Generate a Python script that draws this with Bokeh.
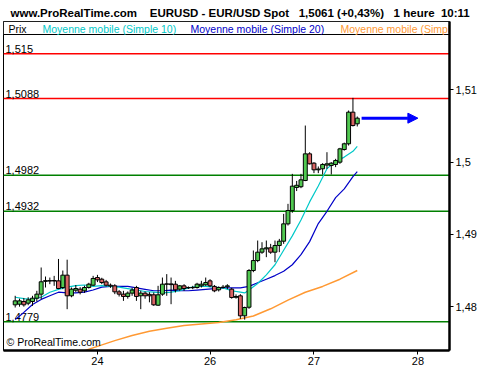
from bokeh.plotting import figure
from bokeh.models import Range1d, FixedTicker, Arrow, NormalHead
from bokeh.core.properties import value
from bokeh.embed import file_html
from bokeh.resources import INLINE

# ---------------- data ----------------
first_bar = -19
opens = [1.48025, 1.48034, 1.48071, 1.48048, 1.48071, 1.48117, 1.48173, 1.48350, 1.48360, 1.48355,
         1.48357, 1.48265, 1.48436, 1.48150, 1.48228, 1.48242, 1.48219, 1.48265, 1.48297, 1.48403,
         1.48380, 1.48343, 1.48297, 1.48288, 1.48205, 1.48173, 1.48141, 1.48187, 1.48265, 1.48150,
         1.48187, 1.48170, 1.48164, 1.48020, 1.48173, 1.48311, 1.48315, 1.48311, 1.48242, 1.48288,
         1.48260, 1.48265, 1.48265, 1.48288, 1.48302, 1.48357, 1.48280, 1.48233, 1.48265, 1.48275,
         1.48242, 1.48130, 1.48150, 1.47873, 1.47992, 1.48500, 1.48638, 1.48754, 1.48800, 1.48814,
         1.48754, 1.48846, 1.48906, 1.49146, 1.49331, 1.49650, 1.49660, 1.49746, 1.50115, 1.49986,
         1.49894, 1.49908, 1.49960, 1.49954, 1.49968, 1.50000, 1.50175, 1.50254, 1.50692, 1.50531]
highs = [1.48150, 1.48110, 1.48120, 1.48130, 1.48150, 1.48219, 1.48542, 1.48417, 1.48403, 1.48426,
         1.48660, 1.48500, 1.48650, 1.48265, 1.48300, 1.48270, 1.48290, 1.48330, 1.48426, 1.48440,
         1.48400, 1.48370, 1.48320, 1.48311, 1.48230, 1.48219, 1.48210, 1.48260, 1.48288, 1.48220,
         1.48210, 1.48200, 1.48196, 1.48288, 1.48403, 1.48450, 1.48403, 1.48357, 1.48300, 1.48311,
         1.48280, 1.48288, 1.48330, 1.48357, 1.48403, 1.48380, 1.48300, 1.48280, 1.48300, 1.48311,
         1.48260, 1.48170, 1.48173, 1.48000, 1.48520, 1.48777, 1.48915, 1.48892, 1.48915, 1.48869,
         1.48915, 1.48938, 1.49284, 1.49423, 1.49838, 1.49740, 1.49838, 1.50507, 1.50138, 1.50000,
         1.49940, 1.49986, 1.50138, 1.50000, 1.50046, 1.50198, 1.50270, 1.50715, 1.50890, 1.50632]
lows = [1.47988, 1.48000, 1.48000, 1.48020, 1.48011, 1.48071, 1.48103, 1.48265, 1.48311, 1.48288,
        1.48242, 1.48242, 1.47965, 1.48130, 1.48200, 1.48170, 1.48190, 1.48250, 1.48288, 1.48340,
        1.48311, 1.48280, 1.48260, 1.48173, 1.48140, 1.48080, 1.48110, 1.48150, 1.48080, 1.47965,
        1.48110, 1.48060, 1.48011, 1.48011, 1.48150, 1.48150, 1.48034, 1.48196, 1.48220, 1.48219,
        1.48245, 1.48242, 1.48250, 1.48265, 1.48288, 1.48270, 1.48200, 1.48210, 1.48250, 1.48242,
        1.48110, 1.48110, 1.47831, 1.47820, 1.47970, 1.48477, 1.48615, 1.48731, 1.48685, 1.48731,
        1.48615, 1.48754, 1.48869, 1.49123, 1.49300, 1.49600, 1.49640, 1.49737, 1.49968, 1.49848,
        1.49848, 1.49829, 1.49908, 1.49829, 1.49931, 1.49977, 1.50160, 1.50230, 1.50494, 1.50494]
closes = [1.48080, 1.48080, 1.48025, 1.48094, 1.48117, 1.48173, 1.48344, 1.48360, 1.48355, 1.48362,
          1.48251, 1.48436, 1.48150, 1.48242, 1.48251, 1.48200, 1.48265, 1.48311, 1.48390, 1.48371,
          1.48334, 1.48297, 1.48285, 1.48205, 1.48173, 1.48141, 1.48187, 1.48230, 1.48141, 1.48187,
          1.48150, 1.48150, 1.48025, 1.48164, 1.48311, 1.48315, 1.48305, 1.48233, 1.48288, 1.48251,
          1.48265, 1.48262, 1.48311, 1.48311, 1.48334, 1.48288, 1.48219, 1.48265, 1.48270, 1.48288,
          1.48127, 1.48140, 1.47873, 1.47988, 1.48500, 1.48638, 1.48754, 1.48800, 1.48814, 1.48754,
          1.48846, 1.48906, 1.49146, 1.49331, 1.49668, 1.49680, 1.49755, 1.50115, 1.49977, 1.49894,
          1.49905, 1.49968, 1.49977, 1.49986, 1.50023, 1.50184, 1.50254, 1.50692, 1.50507, 1.50609]

sma10_bars = [-19, -17, -15, -13, -11, -9, -7, -5, -3, -1, 1, 3, 5, 7, 9, 11, 13, 15, 17, 19, 21,
              23, 25, 27, 29, 31, 33, 34, 35, 37, 39, 41, 43, 45, 47, 49, 51, 53, 55, 57, 59, 60]
sma10_vals = [1.4813, 1.4811, 1.4810, 1.4813, 1.4820, 1.4824, 1.4827, 1.4829, 1.4830, 1.4828, 1.4829,
              1.4828, 1.4827, 1.4825, 1.4823, 1.4821, 1.4820, 1.4819, 1.4820, 1.4822, 1.4826, 1.4828,
              1.4828, 1.4827, 1.4826, 1.4822, 1.4820, 1.4819, 1.4823, 1.4832, 1.4844, 1.4858, 1.4878,
              1.4898, 1.4920, 1.4945, 1.4967, 1.4991, 1.5001, 1.5007, 1.5015, 1.5022]

sma20_bars = [-19, -17, -15, -13, -11, -9, -7, -5, -3, -1, 1, 3, 5, 7, 9, 11, 13, 15, 17, 19, 21,
              23, 25, 27, 29, 31, 33, 35, 37, 39, 41, 43, 45, 47, 49, 51, 53, 55, 57, 59, 60]
sma20_vals = [1.4782, 1.4792, 1.4803, 1.4810, 1.4815, 1.4820, 1.4819, 1.4819, 1.4820, 1.4823, 1.4827,
              1.4828, 1.4828, 1.4828, 1.4826, 1.4824, 1.4822, 1.4822, 1.4823, 1.4822, 1.4822, 1.4823,
              1.4824, 1.4825, 1.4826, 1.4826, 1.4826, 1.4828, 1.4833, 1.4838, 1.4843, 1.4849, 1.4858,
              1.4872, 1.4890, 1.4915, 1.4932, 1.4951, 1.4963, 1.4980, 1.4987]

sma100_bars = [-4, 0, 4, 8, 12, 16, 20, 24, 28, 32, 36, 40, 44, 48, 52, 56, 60]
sma100_vals = [1.4737, 1.4745, 1.4753, 1.4760, 1.4766, 1.4770, 1.4774, 1.4776, 1.4778, 1.4782,
               1.4787, 1.4797, 1.4809, 1.4820, 1.4828, 1.4838, 1.4850]

day_labels = ["24", "26", "27", "28"]
day_bars = [0, 26, 50, 74]

price_ticks = [1.48, 1.49, 1.50, 1.51]
price_tick_labels = ["1,48", "1,49", "1,5", "1,51"]

levels = [1.515, 1.5088, 1.4982, 1.4932, 1.4779]
level_labels = ["1,515", "1,5088", "1,4982", "1,4932", "1,4779"]
level_colors = ["#ff0000", "#ff0000", "#008000", "#008000", "#008000"]

legend_texts = ["Prix", "Moyenne mobile (Simple 10)", "Moyenne mobile (Simple 20)",
                "Moyenne mobile (Simple 100)"]
legend_colors = ["#000000", "#00c8c8", "#0000c8", "#ff9933"]

NB = "\u00a0"
title_text = ("www.ProRealTime.com" + NB * 4 + "EURUSD - EUR/USD Spot" + NB * 3 +
              "1,5061 (+0,43%)" + NB * 3 + "1 heure" + NB * 2 + "10:11")

# ---------------- layout ----------------
W, H = 500, 370
FRAME_W, FRAME_H = 446, 329
B_L, B_T = 3, 21
X_START, X_END = -21.7, 81.3
Y_START, Y_END = 1.47393, 1.51947
FONT = "Liberation Sans"

p = figure(width=W, height=H, output_backend="svg", toolbar_location=None,
           x_range=Range1d(X_START, X_END), y_range=Range1d(Y_START, Y_END),
           y_axis_location="right", title=title_text,
           min_border_left=B_L, min_border_top=B_T,
           min_border_right=W - B_L - FRAME_W, min_border_bottom=H - B_T - FRAME_H)
p.background_fill_color = "white"
p.border_fill_color = "white"
p.outline_line_color = "black"
p.outline_line_width = 1
p.xgrid.visible = False
p.ygrid.visible = False

p.title.text_font = FONT
p.title.text_font_size = "11.5px"
p.title.text_font_style = "bold"
p.title.text_color = "black"
p.title.align = "left"
p.title.offset = 7
p.title.standoff = 5

bars = list(range(first_bar, first_bar + len(opens)))

# header strip
hdr = 13 * (Y_END - Y_START) / FRAME_H
p.quad(left=[X_START], right=[X_END], top=[Y_END], bottom=[Y_END - hdr],
       fill_color="white", line_color="black", line_width=1)
legend_px = [5, 39, 187, 337]
p.text(x=[X_START] * 4, y=[Y_END] * 4, text=legend_texts, x_offset=legend_px, y_offset=7,
       text_color=legend_colors, text_font=value(FONT), text_font_size="10.5px",
       text_baseline="middle", text_align="left")

# support / resistance levels
p.segment(x0=[X_START] * len(levels), x1=[X_END] * len(levels), y0=levels, y1=levels,
          line_color=level_colors, line_width=1.5)
p.text(x=[X_START] * len(levels), y=levels, text=level_labels, x_offset=2, y_offset=-1,
       text_color="black", text_font=value(FONT), text_font_size="11px",
       text_baseline="bottom", text_align="left")

# moving averages
p.line(sma100_bars, sma100_vals, line_color="#ff9933", line_width=1.5)
p.line(sma20_bars, sma20_vals, line_color="#0000c8", line_width=1.2)
p.line(sma10_bars, sma10_vals, line_color="#00c8c8", line_width=1.2)

# candles
body_top = [max(o, c) for o, c in zip(opens, closes)]
body_bot = [min(o, c) for o, c in zip(opens, closes)]
body_col = ["#50c850" if c >= o else "#d96464" for o, c in zip(opens, closes)]
p.segment(x0=bars, x1=bars, y0=highs, y1=lows, line_color="black", line_width=1)
p.vbar(x=bars, width=0.9, top=body_top, bottom=body_bot, fill_color=body_col,
       line_color="black", line_width=1)

# arrow from last candle
arrow = Arrow(end=NormalHead(size=10, fill_color="#0000ff", line_color="#0000ff"),
              x_start=bars[-1] + 1, y_start=closes[-1], x_end=day_bars[-1], y_end=closes[-1],
              line_color="#0000ff", line_width=3)
p.add_layout(arrow)

# copyright
p.text(x=[X_START], y=[Y_START], text=["© ProRealTime.com"], x_offset=3, y_offset=-3,
       text_color="black", text_font=value(FONT), text_font_size="10.5px",
       text_baseline="bottom", text_align="left")

# axes
xa = p.xaxis[0]
xa.ticker = FixedTicker(ticks=day_bars)
xa.major_label_overrides = {b: l for b, l in zip(day_bars, day_labels)}
ya = p.yaxis[0]
ya.ticker = FixedTicker(ticks=price_ticks)
ya.major_label_overrides = {t: l for t, l in zip(price_ticks, price_tick_labels)}
for ax in (xa, ya):
    ax.axis_line_width = 2.5
    ax.axis_line_color = "black"
    ax.major_tick_in = 0
    ax.major_tick_out = 4
    ax.major_tick_line_width = 1
    ax.minor_tick_line_color = None
    ax.major_label_text_font = FONT
    ax.major_label_text_font_size = "11px"
    ax.major_label_text_color = "black"
    ax.major_label_standoff = 2

open("out.html", "w").write(file_html(p, INLINE))
